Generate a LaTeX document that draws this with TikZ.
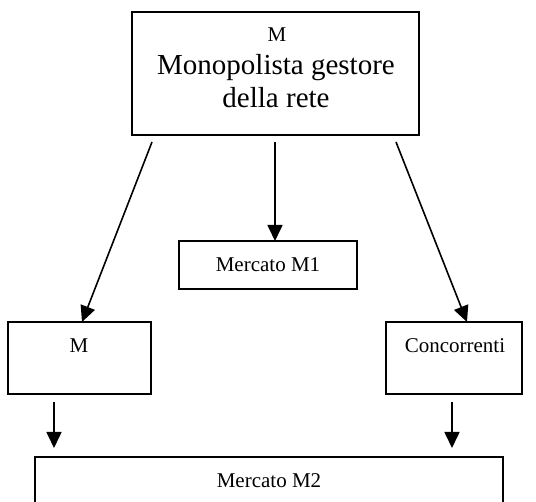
\documentclass[tikz,border=0pt]{standalone}
\usepackage{fontspec}
\setmainfont{Liberation Serif}
\usetikzlibrary{arrows.meta,calc}

\tikzset{
  box/.style={draw, line width=1.7pt, inner sep=0pt, outer sep=0pt},
  small/.style={anchor=base, font=\fontsize{21}{25}\selectfont},
  big/.style={anchor=base, font=\fontsize{29}{34}\selectfont},
  arr/.style={line width=1.6pt, -{Triangle[length=16pt,width=15pt]}}
}

\begin{document}
\begin{tikzpicture}[x=1pt,y=-1pt]
  \useasboundingbox (0,0) rectangle (536,502);
  \begin{scope}
    \clip (0,0) rectangle (536,502);

    % boxes
    \node[box, minimum width=287pt, minimum height=123pt] (top) at (275.5,73.5) {};
    \node[box, minimum width=178pt, minimum height=48pt] (m1) at (268,265) {};
    \node[box, minimum width=143pt, minimum height=72pt] (mbox) at (79.5,358) {};
    \node[box, minimum width=136pt, minimum height=72pt] (conc) at (454,358) {};
    \node[box, minimum width=468pt, minimum height=80pt] (m2) at (269,497) {};

    % texts
    \node[small] (tM) at (277,42) {M};
    \node[big] (tMono) at (276,75) {Monopolista gestore};
    \node[big] (tRete) at (276,108) {della rete};
    \node[small] (tM1) at (268,272) {Mercato M1};
    \node[small] (tMb) at (79,353) {M};
    \node[small] (tConc) at (455,353) {Concorrenti};
    \node[small] (tM2) at (269,488) {Mercato M2};

    % arrows from the network operator
    \draw[arr] ($(top.south west)+(20,7)$) -- ($(mbox.north)+(2.5,0)$);
    \draw[arr] ($(top.south)+(-0.5,7)$) -- (m1.north -| {$(top.south)+(-0.5,7)$});
    \draw[arr] ($(top.south east)+(-23,7)$) -- ($(conc.north)+(13,0)$);

    % arrows into market M2
    \coordinate (l1) at ($(mbox.south west)+(46,8)$);
    \coordinate (l2) at ($(conc.south west)+(66,8)$);
    \draw[arr] (l1) -- ($(m2.north -| l1)+(0,-9)$);
    \draw[arr] (l2) -- ($(m2.north -| l2)+(0,-9)$);
  \end{scope}
\end{tikzpicture}
\end{document}
